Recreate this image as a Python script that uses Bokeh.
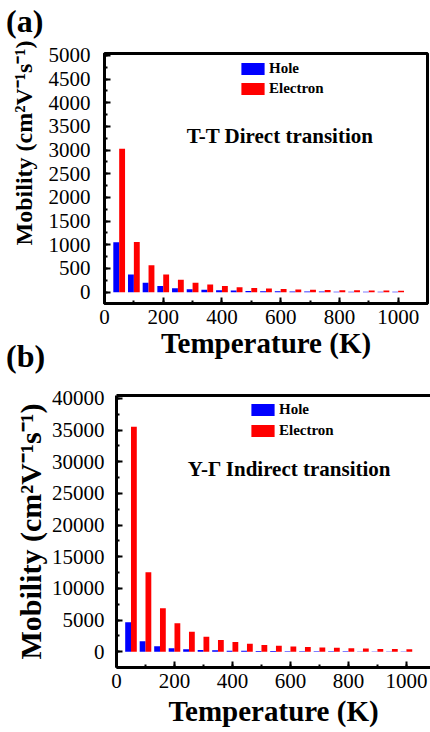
import math
from bokeh.plotting import figure
from bokeh.models import (ColumnDataSource, Label, SingleIntervalTicker, LinearAxis,
                          FixedTicker, Range1d, Legend, Title, Div)
from bokeh.transform import dodge
from bokeh.embed import file_html
from bokeh.resources import INLINE

# ---------------- data ----------------
temperature = [50, 100, 150, 200, 250, 300, 350, 400, 450, 500,
               550, 600, 650, 700, 750, 800, 850, 900, 950, 1000]

hole_a = [1055, 373, 197, 127, 84, 63, 49, 42, 35, 25,
          20, 17, 14, 12, 11, 10, 9, 8, 7, 6]
electron_a = [3030, 1060, 570, 373, 260, 197, 160, 132, 105, 85,
              75, 65, 58, 52, 47, 42, 38, 35, 32, 28]

hole_b = [4640, 1630, 843, 527, 370, 263, 210, 158, 130, 105,
          90, 78, 68, 60, 54, 49, 45, 41, 38, 35]
electron_b = [35500, 12550, 6850, 4480, 3160, 2370, 1845, 1530, 1265, 1054,
              920, 800, 730, 670, 610, 540, 490, 440, 410, 370]

title_a = "T-T Direct transition"
title_b = "Y-\u0393 Indirect transition"
panel_a = "(a)"
panel_b = "(b)"
series_names = ["Hole", "Electron"]
xlabel = "Temperature (K)"
ylabel = "Mobility (cm\u00b2V\u207b\u00b9s\u207b\u00b9)"

FONT = "Liberation Serif"
BLUE = "#0000FF"
RED = "#FF0000"


def make_panel(width, height, left, right, top, bottom, xr, yr, yint,
               hole, elec, outline=True, tick_fs="21px", ystandoff=14, xlab_standoff=0):
    p = figure(width=width, height=height, output_backend="svg", toolbar_location=None,
               x_range=Range1d(*xr), y_range=Range1d(*yr),
               min_border_left=left, min_border_right=right,
               min_border_top=top, min_border_bottom=bottom,
               x_axis_type=None, y_axis_type=None)
    p.title.text = ""
    p.xgrid.visible = False
    p.ygrid.visible = False
    p.background_fill_color = "white"
    p.border_fill_color = "white"
    if outline:
        p.outline_line_color = "black"
        p.outline_line_width = 3
    else:
        p.outline_line_color = None

    xaxis = LinearAxis(ticker=SingleIntervalTicker(interval=200, num_minor_ticks=2))
    yaxis = LinearAxis(ticker=SingleIntervalTicker(interval=yint, num_minor_ticks=2))
    for ax in (xaxis, yaxis):
        ax.axis_line_width = 3
        ax.axis_line_color = "black"
        ax.major_tick_in = 6
        ax.major_tick_out = 0
        ax.minor_tick_in = 3
        ax.minor_tick_out = 0
        ax.major_tick_line_width = 2
        ax.minor_tick_line_width = 2
        ax.major_label_text_font = FONT
        ax.major_label_text_font_size = tick_fs
        ax.major_label_text_color = "black"
    xaxis.major_label_standoff = 6
    yaxis.major_label_standoff = ystandoff
    xaxis.axis_label = xlabel
    xaxis.axis_label_text_font = FONT
    xaxis.axis_label_text_font_style = "bold"
    xaxis.axis_label_text_font_size = "29px"
    xaxis.axis_label_text_color = "black"
    xaxis.axis_label_standoff = xlab_standoff
    p.add_layout(xaxis, "below")
    p.add_layout(yaxis, "left")

    if not outline:
        topax = LinearAxis(ticker=FixedTicker(ticks=[]))
        topax.axis_line_width = 3
        topax.major_tick_in = 0
        topax.major_tick_out = 0
        topax.minor_tick_in = 0
        topax.minor_tick_out = 0
        topax.major_label_text_font_size = "0px"
        topax.major_label_standoff = 0
        p.add_layout(topax, "above")

    src = ColumnDataSource(dict(T=temperature, hole=hole, elec=elec))
    r1 = p.vbar(x=dodge("T", -10, range=p.x_range), top="hole", bottom=0, width=20,
                source=src, fill_color=BLUE, line_color=None)
    r2 = p.vbar(x=dodge("T", 10, range=p.x_range), top="elec", bottom=0, width=20,
                source=src, fill_color=RED, line_color=None)
    return p, r1, r2


def px2x(px, left, fw, xr):
    return xr[0] + (px - left) / fw * (xr[1] - xr[0])


def py2y(py, top, fh, yr):
    return yr[1] - (py - top) / fh * (yr[1] - yr[0])


def add_legend(p, r1, r2, loc, spacing):
    leg = Legend(items=[(series_names[0], [r1]), (series_names[1], [r2])], location=loc)
    leg.border_line_color = None
    leg.background_fill_alpha = 0
    leg.padding = 0
    leg.margin = 0
    leg.spacing = spacing
    leg.glyph_width = 29
    leg.glyph_height = 15
    leg.label_height = 15
    leg.label_standoff = 2
    leg.label_text_font = FONT
    leg.label_text_font_style = "bold"
    leg.label_text_font_size = "15px"
    leg.label_text_color = "black"
    leg.label_text_baseline = "middle"
    p.add_layout(leg, "center")


def side_title(text, size, align, offset, standoff):
    return Title(text=text, align=align, offset=offset, standoff=standoff,
                 text_font=FONT, text_font_style="bold", text_font_size=size,
                 text_color="black")


def panel_div(text, left, top):
    return Div(text=text, styles={"position": "absolute", "left": f"{left}px", "top": f"{top}px",
                                  "font-family": FONT, "font-weight": "bold",
                                  "font-size": "32px", "color": "black", "margin": "0",
                                  "line-height": "normal", "z-index": "10"})


# ---------------- panel (a) ----------------
W = 430
A_H, A_L, A_R, A_T, A_B = 377, 103, 3, 53, 74
a_fw, a_fh = W - A_L - A_R, A_H - A_T - A_B
a_xr, a_yr = (0, 1100), (-240, 5040)
pa, ra1, ra2 = make_panel(W, A_H, A_L, A_R, A_T, A_B, a_xr, a_yr, 500, hole_a, electron_a,
                          ystandoff=14)
add_legend(pa, ra1, ra2, (134, a_fh - 44), 3)

pa.add_layout(Label(x=px2x(279, A_L, a_fw, a_xr), y=py2y(135, A_T, a_fh, a_yr), text=title_a,
                    text_font=FONT, text_font_style="bold", text_font_size="21px",
                    text_color="black", text_align="center", text_baseline="middle"))
pa.add_layout(side_title(ylabel, "24px", "right", -13, 17), "left")

# ---------------- panel (b) ----------------
B_H, B_L, B_R, B_T, B_B = 732 - A_H, 116, 0, 18, 65
b_fw, b_fh = W - B_L - B_R, B_H - B_T - B_B
b_xr, b_yr = (0, 1083), (-2500, 40450)
pb, rb1, rb2 = make_panel(W, B_H, B_L, B_R, B_T, B_B, b_xr, b_yr, 5000, hole_b, electron_b,
                          outline=False, ystandoff=12, xlab_standoff=4)
add_legend(pb, rb1, rb2, (132, b_fh - 44), 4)

pb.add_layout(Label(x=px2x(289, B_L, b_fw, b_xr), y=py2y(468 - A_H, B_T, b_fh, b_yr), text=title_b,
                    text_font=FONT, text_font_style="bold", text_font_size="21px",
                    text_color="black", text_align="center", text_baseline="middle"))
pb.add_layout(side_title(ylabel, "30px", "center", 3, 4), "left")

div_a = panel_div(panel_a, 6, 3)
div_b = panel_div(panel_b, 6, 338)

open("out.html", "w").write(file_html([pa, pb, div_a, div_b], INLINE))
